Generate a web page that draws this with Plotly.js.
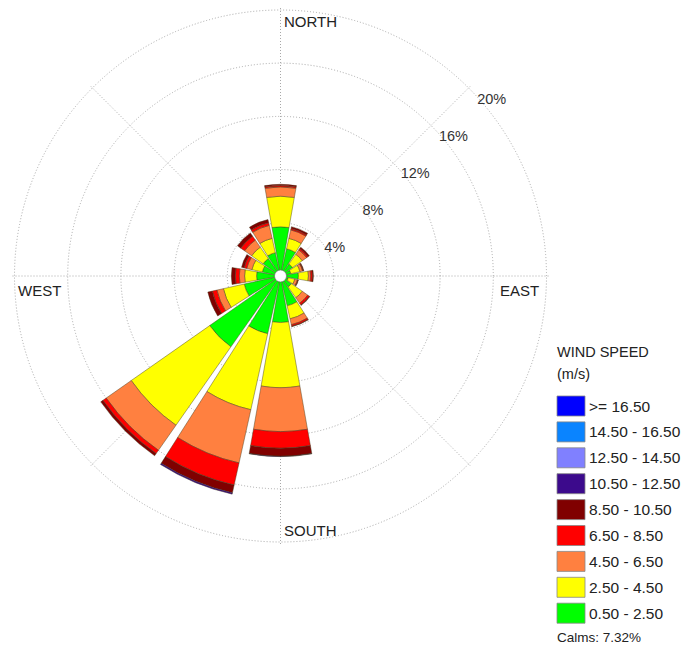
<!DOCTYPE html>
<html>
<head>
<meta charset="utf-8">
<script src="https://cdn.plot.ly/plotly-3.0.1.min.js"></script>
<style>html,body{margin:0;padding:0;background:#fff;}#chart{width:689px;height:652px;}</style>
</head>
<body>
<div id="chart"></div>
<script>
// Directions (bearing, degrees clockwise from north)
var directions = [0, 22.5, 45, 67.5, 90, 112.5, 135, 157.5, 180, 202.5, 225, 247.5, 270, 292.5, 315, 337.5];
var dirNames = ["N","NNE","NE","ENE","E","ESE","SE","SSE","S","SSW","SW","WSW","W","WNW","NW","NNW"];

// Frequency (%) per speed class, per direction (N ... NNW)
var s0_5_2_5   = [3.7, 2.1, 1.1, 0.8, 1.35, 0.6, 1.0, 2.3, 3.5, 4.45, 6.5, 2.8, 1.8, 1.4, 1.6, 1.8];
var s2_5_4_5   = [2.3, 0.8, 0.9, 0.7, 0.75, 0.5, 1.0, 1.0, 4.9, 5.85, 7.2, 1.6, 0.9, 0.8, 1.05, 1.1];
var s4_5_6_5   = [0.7, 0.65, 0.4, 0.2, 0.17, 0.2, 0.5, 0.45, 3.3, 4.1, 2.3, 0.5, 0.4, 0.4, 0.65, 1.0];
var s6_5_8_5   = [0.1, 0.1, 0.12, 0.05, 0.13, 0.05, 0.15, 0.12, 1.25, 1.7, 0.3, 0.35, 0.3, 0.2, 0.35, 0.2];
var s8_5_10_5  = [0.1, 0.15, 0.13, 0.05, 0.08, 0.03, 0.05, 0.03, 0.6, 0.6, 0.2, 0.35, 0.3, 0.2, 0.3, 0.25];
var s10_5_12_5 = [0, 0, 0, 0, 0, 0, 0, 0, 0.03, 0.1, 0, 0, 0, 0, 0, 0];
var s12_5_14_5 = [0, 0, 0, 0, 0, 0, 0, 0, 0, 0, 0, 0, 0, 0, 0, 0];
var s14_5_16_5 = [0, 0, 0, 0, 0, 0, 0, 0, 0, 0, 0, 0, 0, 0, 0, 0];
var s16_5_up   = [0, 0, 0, 0, 0, 0, 0, 0, 0, 0, 0, 0, 0, 0, 0, 0];

// Speed classes, innermost first
var speedLabels = ["0.50 - 2.50", "2.50 - 4.50", "4.50 - 6.50", "6.50 - 8.50", "8.50 - 10.50",
                   "10.50 - 12.50", "12.50 - 14.50", "14.50 - 16.50", ">= 16.50"];
var speedColors = ["#00ff00", "#ffff00", "#ff8040", "#ff0000", "#800000",
                   "#3c0a8c", "#8080ff", "#0a84ff", "#0000ff"];
var speedValues = [s0_5_2_5, s2_5_4_5, s4_5_6_5, s6_5_8_5, s8_5_10_5, s10_5_12_5, s12_5_14_5, s14_5_16_5, s16_5_up];

var ringVals = [4, 8, 12, 16, 20];
var ringText = ["4%", "8%", "12%", "16%", "20%"];
var legendTitle1 = "WIND SPEED";
var legendTitle2 = "(m/s)";
var calmsText = "Calms: 7.32%";

var FONT = "Liberation Sans, Arial, sans-serif";
var W = 689, H = 652;

var traces = speedValues.map(function (vals, i) {
  return {
    type: "barpolar",
    r: vals,
    theta: directions,
    width: directions.map(function () { return 20; }),
    name: speedLabels[i],
    marker: { color: speedColors[i], line: { color: "rgba(70,60,30,0.75)", width: 0.6 } },
    hoverinfo: "skip",
    showlegend: false
  };
});

// geometry of polar area in pixels (20% ring at 266 px; range extended slightly so the 20% grid circle is drawn)
var rMax = 20.3;
var cx = 280.5, cy = 276, R = 266 * rMax / 20;
var dom = { x: [(cx - R) / W, (cx + R) / W], y: [1 - (cy + R) / H, 1 - (cy - R) / H] };

var shapes = [];
var annotations = [];

// centre hole
var hr = 6;
shapes.push({ type: "circle", xref: "paper", yref: "paper", layer: "above",
  x0: (cx - hr) / W, x1: (cx + hr) / W, y0: 1 - (cy + hr) / H, y1: 1 - (cy - hr) / H,
  fillcolor: "#ffffff", line: { color: "#666", width: 0.6 } });

// compass labels
var compass = [
  { t: "NORTH", x: 282, y: 21 },
  { t: "EAST", x: 498, y: 290 },
  { t: "SOUTH", x: 282, y: 530 },
  { t: "WEST", x: 16, y: 290 }
];
compass.forEach(function (c) {
  annotations.push({ text: c.t, xref: "paper", yref: "paper", x: c.x / W, y: 1 - c.y / H,
    xanchor: "left", yanchor: "middle", showarrow: false,
    font: { family: FONT, size: 15, color: "#222" } });
});

// legend
var lgX = 557, lgTop = 396, lgStep = 25.9, boxW = 28, boxH = 20;
annotations.push({ text: legendTitle1, xref: "paper", yref: "paper", x: (lgX - 2) / W, y: 1 - 352 / H,
  xanchor: "left", yanchor: "middle", showarrow: false,
  font: { family: FONT, size: 14.5, color: "#222" } });
annotations.push({ text: legendTitle2, xref: "paper", yref: "paper", x: (lgX - 2) / W, y: 1 - 374 / H,
  xanchor: "left", yanchor: "middle", showarrow: false,
  font: { family: FONT, size: 14.5, color: "#222" } });
var order = speedLabels.slice().reverse();
var ocol = speedColors.slice().reverse();
order.forEach(function (lab, k) {
  var y0 = lgTop + k * lgStep;
  shapes.push({ type: "rect", xref: "paper", yref: "paper",
    x0: lgX / W, x1: (lgX + boxW) / W, y0: 1 - (y0 + boxH) / H, y1: 1 - y0 / H,
    fillcolor: ocol[k], line: { color: "#888", width: 0.8 } });
  annotations.push({ text: lab, xref: "paper", yref: "paper", x: 587 / W, y: 1 - (y0 + boxH / 2) / H,
    xanchor: "left", yanchor: "middle", showarrow: false,
    font: { family: FONT, size: 15.5, color: "#222" } });
});
annotations.push({ text: calmsText, xref: "paper", yref: "paper", x: (lgX - 2) / W, y: 1 - 637 / H,
  xanchor: "left", yanchor: "middle", showarrow: false,
  font: { family: FONT, size: 13.5, color: "#222" } });

var layout = {
  width: W, height: H,
  margin: { l: 0, r: 0, t: 0, b: 0 },
  paper_bgcolor: "#ffffff",
  font: { family: FONT, color: "#222" },
  showlegend: false,
  polar: {
    domain: dom,
    bgcolor: "rgba(0,0,0,0)",
    barmode: "stack",
    radialaxis: {
      range: [0, rMax],
      tickmode: "array", tickvals: ringVals, ticktext: ringText,
      angle: 44, side: "clockwise", tickangle: 44,
      showline: false, ticks: "",
      gridcolor: "#a8a8a8", griddash: "1px,2px", gridwidth: 1,
      tickfont: { family: FONT, size: 14.5, color: "#333" }
    },
    angularaxis: {
      rotation: 90, direction: "clockwise",
      tickmode: "array", tickvals: [0, 45, 90, 135, 180, 225, 270, 315],
      showticklabels: false, ticks: "",
      gridcolor: "#a8a8a8", griddash: "1px,2px", gridwidth: 1,
      showline: false
    }
  },
  shapes: shapes,
  annotations: annotations
};

Plotly.newPlot("chart", traces, layout, { displayModeBar: false, staticPlot: true });
</script>
</body>
</html>
